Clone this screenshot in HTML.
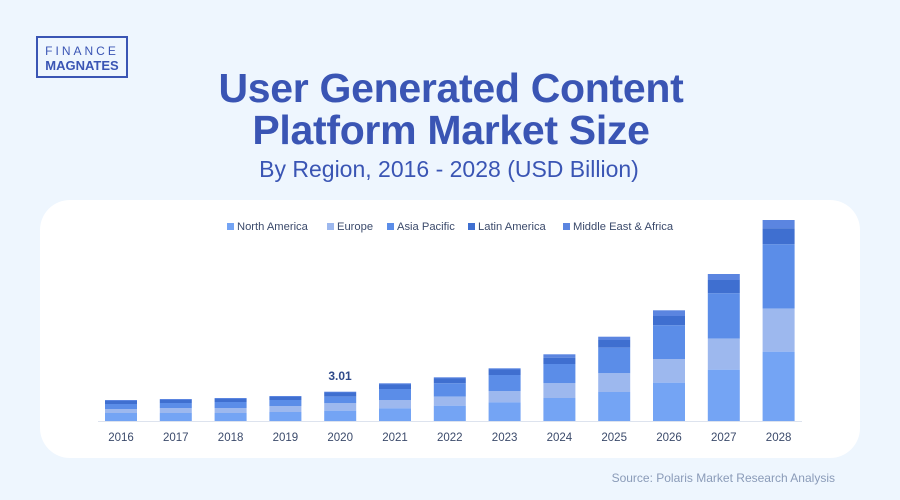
<!DOCTYPE html>
<html><head><meta charset="utf-8"><style>
html,body{margin:0;padding:0}
body{width:900px;height:500px;background:#eef6fe;position:relative;overflow:hidden;font-family:"Liberation Sans",sans-serif}
</style></head><body>
<svg width="900" height="500" viewBox="0 0 900 500" xmlns="http://www.w3.org/2000/svg" style="position:absolute;left:0;top:0">
<rect x="0" y="0" width="900" height="500" fill="#eef6fe"/>
<rect x="37" y="37" width="90" height="40" fill="none" stroke="#3a55b4" stroke-width="2"/>
<text x="82" y="55" text-anchor="middle" font-size="12" fill="#3a55b4" letter-spacing="3">FINANCE</text>
<text x="82" y="70" text-anchor="middle" font-size="13" font-weight="bold" fill="#3a55b4">MAGNATES</text>
<text x="451" y="102" text-anchor="middle" font-size="41" font-weight="bold" fill="#3a55b4" letter-spacing="-0.3">User Generated Content</text>
<text x="451" y="144" text-anchor="middle" font-size="41" font-weight="bold" fill="#3a55b4" letter-spacing="-0.3">Platform Market Size</text>
<text x="449" y="177" text-anchor="middle" font-size="23" fill="#3a55b4">By Region, 2016 - 2028 (USD Billion)</text>
<rect x="40" y="200" width="820" height="258" rx="30" fill="#ffffff"/>
<g font-size="11.2" fill="#3b4a6b">
<rect x="227" y="223" width="7" height="7" fill="#74a4f4"/><text x="237" y="230">North America</text>
<rect x="327" y="223" width="7" height="7" fill="#9db8ee"/><text x="337" y="230">Europe</text>
<rect x="387" y="223" width="7" height="7" fill="#5b8de8"/><text x="397" y="230">Asia Pacific</text>
<rect x="468" y="223" width="7" height="7" fill="#3f6fd0"/><text x="478" y="230">Latin America</text>
<rect x="563" y="223" width="7" height="7" fill="#5b85e0"/><text x="573" y="230">Middle East &amp; Africa</text>
</g>
<line x1="98" y1="421.5" x2="802" y2="421.5" stroke="#dde3ee" stroke-width="1"/>
<g id="bars"></g>
<text x="340" y="380" text-anchor="middle" font-size="12" font-weight="bold" fill="#2f4a8a">3.01</text>
<g id="labels" font-size="11.5" fill="#3b4a6b" text-anchor="middle"></g>
<text x="835" y="482" text-anchor="end" font-size="12" fill="#8a9bb8">Source: Polaris Market Research Analysis</text>
</svg>
<script>
var d=[[400,401,404,409,413],[399,400,403,408,413],[398,399,402,408,413],[396,397,400,406,412],[391.7,392.5,396.7,403.3,410.7],[383.3,384.5,389,400,408.3],[377.3,378.5,383.3,396.7,405.7],[368.3,369.5,375,391,402.3],[354.3,357.7,364,383.3,398],[336.7,340,347.7,373.3,392],[310.3,316,325.3,359,382.7],[274,280,293.3,338.7,369.7],[220,228.3,244.3,308.7,351.7]];
var c=["#5b85e0","#3f6fd0","#5b8de8","#9db8ee","#74a4f4"];
var ns="http://www.w3.org/2000/svg",g=document.getElementById("bars"),l=document.getElementById("labels");
d.forEach(function(b,i){var cx=121+i*54.8;var ys=b.concat([421]);
for(var k=0;k<5;k++){var r=document.createElementNS(ns,"rect");r.setAttribute("x",cx-16);r.setAttribute("width",32);r.setAttribute("y",ys[k]);r.setAttribute("height",ys[k+1]-ys[k]);r.setAttribute("fill",c[k]);g.appendChild(r);}
var t=document.createElementNS(ns,"text");t.setAttribute("x",cx);t.setAttribute("y",441);t.textContent=2016+i;l.appendChild(t);});
</script>
</body></html>
